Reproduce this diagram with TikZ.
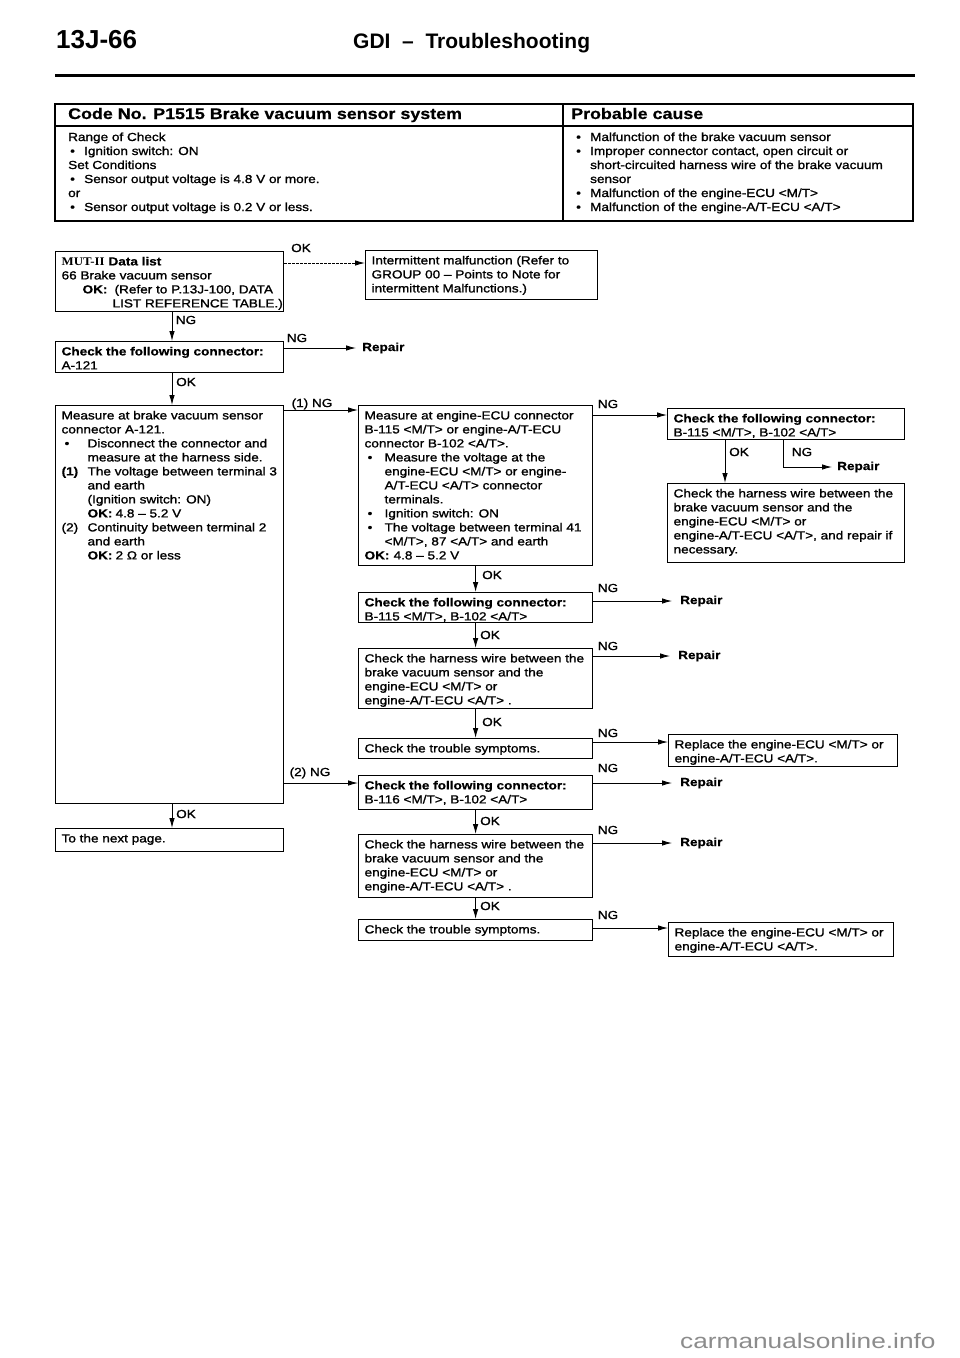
\documentclass[tikz,border=0pt]{standalone}
\usepackage{fontspec}
\setmainfont{Liberation Sans}[FakeStretch=1.16, UprightFeatures={FakeBold=1.3}, BoldFeatures={FakeBold=0.6}]
\newfontfamily\tmsf{Liberation Serif}[FakeStretch=1.1]
\newfontfamily\titlef{Liberation Sans}
\newfontfamily\wmf{Liberation Sans}[FakeStretch=1.25]
\usetikzlibrary{arrows.meta}
\newcommand\fsz{\fontsize{11.7}{14}\selectfont}
\newcommand\bul{\makebox[20pt][l]{\hspace*{3pt}\textbullet}}
\newcommand\ind{\hspace*{20pt}}
\newcommand\bulw{\makebox[26pt][l]{\hspace*{3pt}\textbullet}}
\newcommand\indw{\hspace*{26pt}}
\newcommand\bult{\makebox[16pt][l]{\hspace*{2pt}\textbullet}}
\newcommand\indt{\hspace*{16pt}}
\newcommand\bx[3]{\parbox[c][#2][t]{#1}{\begin{tabular}[t]{@{}l@{}}#3\end{tabular}}}
\tikzset{
  box/.style={draw, line width=1.2pt, anchor=north west, inner xsep=6pt, inner ysep=4pt, font=\fsz},
  lbl/.style={font=\fsz, inner sep=0pt},
  rep/.style={font=\fsz\bfseries, inner sep=0pt, anchor=west},
  arr/.style={line width=0.9pt, -{Latex[length=10pt,width=5.5pt]}},
  tline/.style={line width=1.2pt},
}
\begin{document}
\begin{tikzpicture}[x=1pt,y=-1pt]
\useasboundingbox (0,0) rectangle (960,1358);
\fill[white] (0,0) rectangle (960,1358);

% page header
\node[anchor=base west, inner sep=0pt, font=\titlef\bfseries\fontsize{26}{28}\selectfont] (pg) at (56,48) {13J-66};
\node[anchor=base west, inner sep=0pt, font=\titlef\bfseries\fontsize{21}{24}\selectfont] (ttl) at (353,48) {GDI \ – \ Troubleshooting};
\draw[line width=3pt] (55,75) -- (915,75);

% table
\draw[tline] (55,104) rectangle (913,221);
\draw[tline] (55,126) -- (913,126);
\draw[tline] (563,104) -- (563,221);
\node[anchor=base west, inner sep=0pt, font=\fontsize{15.4}{18}\selectfont\bfseries] (th1) at (68,119) {Code No. P1515 Brake vacuum sensor system};
\node[anchor=base west, inner sep=0pt, font=\fontsize{15.4}{18}\selectfont\bfseries] (th2) at (571,119) {Probable cause};
\node[anchor=north west, inner sep=0pt, font=\fsz] (tb1) at (68,131) {\begin{tabular}[t]{@{}l@{}}Range of Check\\ \bult Ignition switch: ON\\ Set Conditions\\ \bult Sensor output voltage is 4.8 V or more.\\ or\\ \bult Sensor output voltage is 0.2 V or less.\end{tabular}};
\node[anchor=north west, inner sep=0pt, font=\fsz] (tb2) at (574,131) {\begin{tabular}[t]{@{}l@{}}\bult Malfunction of the brake vacuum sensor\\ \bult Improper connector contact, open circuit or\\ \indt short-circuited harness wire of the brake vacuum\\ \indt sensor\\ \bult Malfunction of the engine-ECU <M/T>\\ \bult Malfunction of the engine-A/T-ECU <A/T>\end{tabular}};

% left column
\node[box] (L1) at (55,251) {\bx{216pt}{52pt}{\textbf{{\tmsf MUT-II} Data list}\\ 66 Brake vacuum sensor\\ \hspace*{21pt}\makebox[32pt][l]{\textbf{OK:}}(Refer to P.13J-100, DATA\\ \hspace*{51pt}LIST REFERENCE TABLE.)}};
\node[box] (I1) at (365,250) {\bx{220pt}{41pt}{Intermittent malfunction (Refer to\\ GROUP 00 – Points to Note for\\ intermittent Malfunctions.)}};
\node[box] (L2) at (55,341) {\bx{216pt}{23pt}{\textbf{Check the following connector:}\\ A-121}};
\node[box] (L3) at (55,405) {\bx{216pt}{390pt}{Measure at brake vacuum sensor\\ connector A-121.\\ \bulw Disconnect the connector and\\ \indw measure at the harness side.\\ \makebox[26pt][l]{\textbf{(1)}}The voltage between terminal 3\\ \indw and earth\\ \indw (Ignition switch: ON)\\ \indw \makebox[28pt][l]{\textbf{OK:}}4.8 – 5.2 V\\ \makebox[26pt][l]{(2)}Continuity between terminal 2\\ \indw and earth\\ \indw \makebox[28pt][l]{\textbf{OK:}}2 Ω or less}};
\node[box] (L4) at (55,828) {\bx{216pt}{15pt}{To the next page.}};

% middle column
\node[box] (M1) at (358,405) {\bx{222pt}{152pt}{Measure at engine-ECU connector\\ B-115 <M/T> or engine-A/T-ECU\\ connector B-102 <A/T>.\\ \bul Measure the voltage at the\\ \ind engine-ECU <M/T> or engine-\\ \ind A/T-ECU <A/T> connector\\ \ind terminals.\\ \bul Ignition switch: ON\\ \bul The voltage between terminal 41\\ \ind <M/T>, 87 <A/T> and earth\\ \makebox[29pt][l]{\textbf{OK:}}4.8 – 5.2 V}};
\node[box] (M2) at (358,592) {\bx{222pt}{22pt}{\textbf{Check the following connector:}\\ B-115 <M/T>, B-102 <A/T>}};
\node[box] (M3) at (358,648) {\bx{222pt}{52pt}{Check the harness wire between the\\ brake vacuum sensor and the\\ engine-ECU <M/T> or\\ engine-A/T-ECU <A/T> .}};
\node[box] (M4) at (358,738) {\bx{222pt}{12pt}{Check the trouble symptoms.}};
\node[box] (M5) at (358,775) {\bx{222pt}{26pt}{\textbf{Check the following connector:}\\ B-116 <M/T>, B-102 <A/T>}};
\node[box] (M6) at (358,834) {\bx{222pt}{55pt}{Check the harness wire between the\\ brake vacuum sensor and the\\ engine-ECU <M/T> or\\ engine-A/T-ECU <A/T> .}};
\node[box] (M7) at (358,919) {\bx{222pt}{13pt}{Check the trouble symptoms.}};

% right column
\node[box] (R1) at (667,408) {\bx{225pt}{23pt}{\textbf{Check the following connector:}\\ B-115 <M/T>, B-102 <A/T>}};
\node[box] (R2) at (667,483) {\bx{225pt}{71pt}{Check the harness wire between the\\ brake vacuum sensor and the\\ engine-ECU <M/T> or\\ engine-A/T-ECU <A/T>, and repair if\\ necessary.}};
\node[box] (R4) at (668,734) {\bx{217pt}{24pt}{Replace the engine-ECU <M/T> or\\ engine-A/T-ECU <A/T>.}};
\node[box] (R7) at (668,922) {\bx{213pt}{26pt}{Replace the engine-ECU <M/T> or\\ engine-A/T-ECU <A/T>.}};

% repair targets
\node[rep] (RP1) at (362,348) {Repair};
\node[rep] (RP2) at (837,467) {Repair};
\node[rep] (RP3) at (680,601) {Repair};
\node[rep] (RP4) at (678,656) {Repair};
\node[rep] (RP5) at (680,783) {Repair};
\node[rep] (RP6) at (680,843) {Repair};

% connectors
\coordinate (cxl) at (172,0);
\coordinate (cxr) at (725,0);
\coordinate (cxn) at (783,0);
\coordinate (o1) at ([yshift=-12pt]L1.north east);
\draw[arr, dash pattern=on 2.5pt off 1.5pt] (o1) -- (o1 -| I1.west);
\draw[arr] (L1.south -| cxl) -- (L2.north -| cxl);
\draw[arr] (L2.east |- RP1.west) -- ([xshift=-6pt]RP1.west);
\draw[arr] (L2.south -| cxl) -- (L3.north -| cxl);
\coordinate (o5) at ([yshift=-5pt]L3.north east);
\draw[arr] (o5) -- (o5 -| M1.west);
\coordinate (o6) at ([yshift=-10pt]M1.north east);
\draw[arr] (o6) -- (o6 -| R1.west);
\draw[arr] (R1.south -| cxr) -- (R2.north -| cxr);
\draw[arr] (R1.south -| cxn) |- ([xshift=-5pt]RP2.west);
\draw[arr] (M1.south) -- (M2.north);
\draw[arr] (M2.east |- RP3.west) -- ([xshift=-8pt]RP3.west);
\draw[arr] (M2.south) -- (M3.north);
\draw[arr] (M3.east |- RP4.west) -- ([xshift=-8pt]RP4.west);
\draw[arr] (M3.south) -- (M4.north);
\coordinate (o14) at ([yshift=-4pt]M4.north east);
\draw[arr] (o14) -- (o14 -| R4.west);
\coordinate (o15) at ([yshift=-8pt]M5.north west);
\draw[arr] (o15 -| L3.east) -- (o15);
\draw[arr] (M5.east |- RP5.west) -- ([xshift=-8pt]RP5.west);
\draw[arr] (M5.south) -- (M6.north);
\draw[arr] (M6.east |- RP6.west) -- ([xshift=-8pt]RP6.west);
\draw[arr] (M6.south) -- (M7.north);
\coordinate (o20) at ([yshift=-9pt]M7.north east);
\draw[arr] (o20) -- (o20 -| R7.west);
\draw[arr] (L3.south -| cxl) -- (L4.north -| cxl);

% labels
\node[lbl] (t1) at (301,248) {OK};
\node[lbl] (t2) at (186,320) {NG};
\node[lbl] (t3) at (297,338) {NG};
\node[lbl] (t4) at (186,382) {OK};
\node[lbl] (t5) at (312,404) {(1) NG};
\node[lbl] (t6) at (608,404) {NG};
\node[lbl] (t7) at (739,452) {OK};
\node[lbl] (t8) at (802,452) {NG};
\node[lbl] (t9) at (492,575) {OK};
\node[lbl] (t10) at (608,588) {NG};
\node[lbl] (t11) at (490,635) {OK};
\node[lbl] (t12) at (608,646) {NG};
\node[lbl] (t13) at (492,722) {OK};
\node[lbl] (t14) at (608,733) {NG};
\node[lbl] (t15) at (310,773) {(2) NG};
\node[lbl] (t16) at (608,768) {NG};
\node[lbl] (t17) at (490,821) {OK};
\node[lbl] (t18) at (608,830) {NG};
\node[lbl] (t19) at (490,906) {OK};
\node[lbl] (t20) at (608,915) {NG};
\node[lbl] (t21) at (186,814) {OK};

% watermark
\node[anchor=base west, inner sep=0pt, text=black!45, font=\wmf\fontsize{21}{24}\selectfont] (wm) at (680,1348) {carmanualsonline.info};
\end{tikzpicture}
\end{document}
